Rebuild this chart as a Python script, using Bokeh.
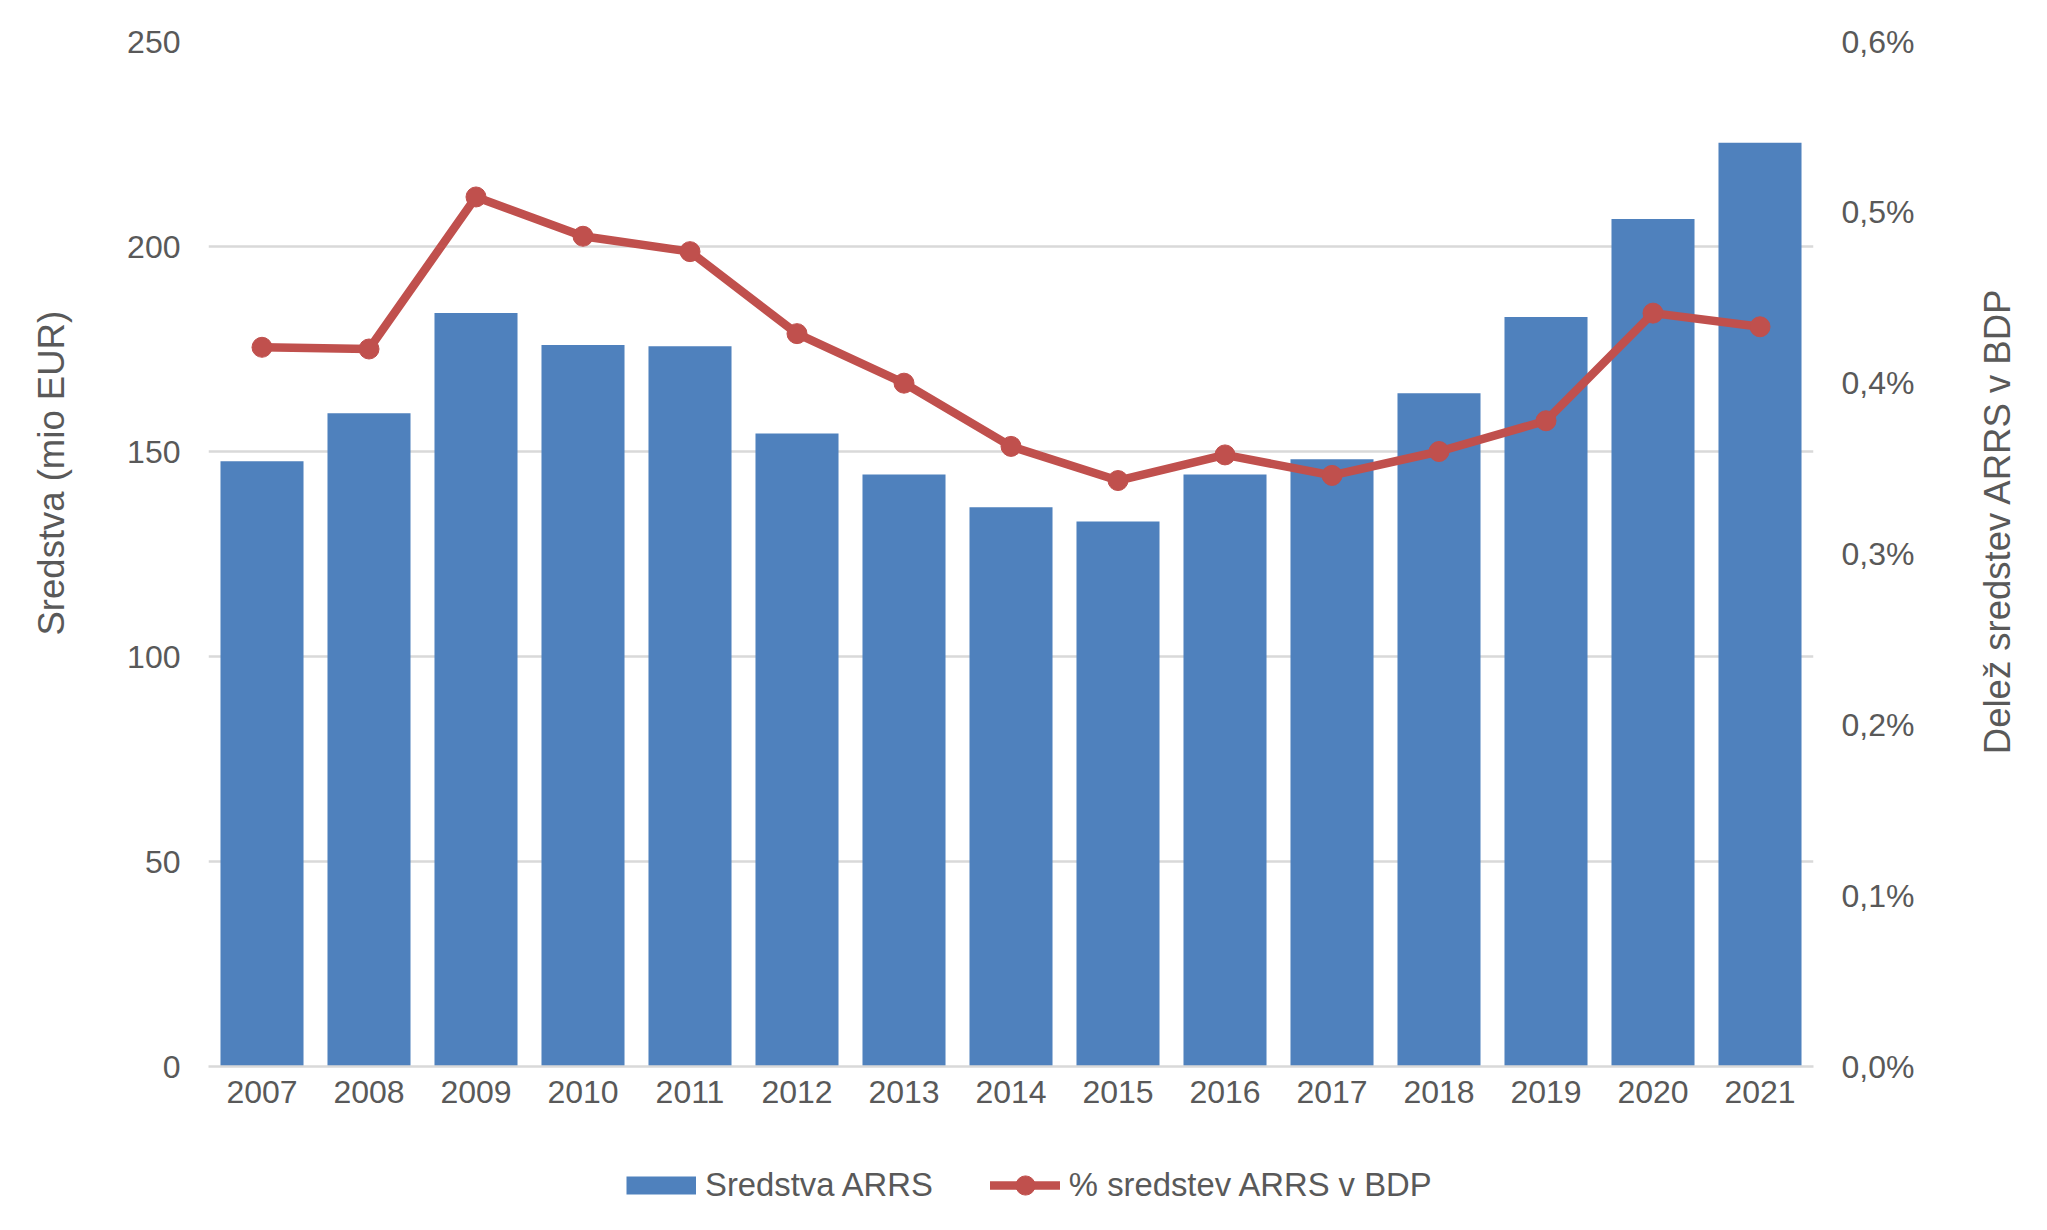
from bokeh.plotting import figure
from bokeh.layouts import row, column
from bokeh.models import (ColumnDataSource, FactorRange, Range1d, LinearAxis, FixedTicker,
                          CustomJSTickFormatter, Legend, LegendItem, Label)
from bokeh.embed import file_html
from bokeh.resources import INLINE
import math

# ---- data ----
years = ["2007", "2008", "2009", "2010", "2011", "2012", "2013", "2014",
         "2015", "2016", "2017", "2018", "2019", "2020", "2021"]
sredstva = [147.6, 159.3, 183.8, 176.0, 175.7, 154.4, 144.4, 136.4,
            132.9, 144.4, 148.1, 164.2, 182.8, 206.7, 225.3]
delez_pct = [0.421, 0.420, 0.509, 0.486, 0.477, 0.429, 0.400, 0.363,
             0.343, 0.358, 0.346, 0.360, 0.378, 0.441, 0.433]
left_ticks = [0, 50, 100, 150, 200, 250]
right_ticks = [0.0, 0.1, 0.2, 0.3, 0.4, 0.5, 0.6]
bar_name = "Sredstva ARRS"
line_name = "% sredstev ARRS v BDP"
left_title = "Sredstva (mio EUR)"
right_title = "Delež sredstev ARRS v BDP"

FONT = "Liberation Sans"
TXT = "#595959"
GRID = "#D9D9D9"
BLUE = "#4F81BD"
RED = "#C0504D"

SIDE_W = 100
MAIN_W = 2031 - 2 * SIDE_W
MAIN_H = 1161
LEG_H = 48


def bare(width, height, xr, yr):
    f = figure(width=width, height=height, x_range=xr, y_range=yr,
               output_backend="svg", toolbar_location=None,
               x_axis_location=None, y_axis_location=None,
               min_border_left=0, min_border_right=0, min_border_top=0, min_border_bottom=0)
    f.grid.visible = False
    f.outline_line_color = None
    f.background_fill_color = "white"
    f.border_fill_color = "white"
    return f


# ---- main chart ----
src = ColumnDataSource(dict(year=years, val=sredstva, pct=delez_pct))
p = figure(width=MAIN_W, height=MAIN_H, x_range=FactorRange(factors=years, range_padding=0),
           y_range=Range1d(0, 250), output_backend="svg", toolbar_location=None,
           min_border_left=108, min_border_right=118, min_border_top=41,
           min_border_bottom=MAIN_H - 1066)
p.extra_y_ranges = {"pct": Range1d(0, 0.6)}
p.outline_line_color = None
p.background_fill_color = "white"
p.border_fill_color = "white"

p.vbar(x="year", top="val", width=0.776, source=src, fill_color=BLUE, line_color=None)
p.line(x="year", y="pct", source=src, y_range_name="pct", line_color=RED,
       line_width=8.5, line_join="round", line_cap="round")
p.scatter(x="year", y="pct", source=src, y_range_name="pct", marker="circle",
          size=20, fill_color=RED, line_color=RED)

p.xgrid.grid_line_color = None
p.ygrid.grid_line_color = GRID
p.ygrid.grid_line_width = 2.5
p.ygrid.ticker = FixedTicker(ticks=left_ticks)

xa = p.xaxis[0]
xa.axis_line_color = GRID
xa.axis_line_width = 2.5
xa.major_tick_line_color = None
xa.minor_tick_line_color = None
xa.major_label_standoff = 8
xa.major_label_text_font = FONT
xa.major_label_text_font_size = "32px"
xa.major_label_text_color = TXT

ya = p.yaxis[0]
ya.ticker = FixedTicker(ticks=left_ticks)
ya.axis_line_color = None
ya.major_tick_line_color = None
ya.minor_tick_line_color = None
ya.major_label_standoff = 22
ya.major_label_text_font = FONT
ya.major_label_text_font_size = "32px"
ya.major_label_text_color = TXT

ra = LinearAxis(y_range_name="pct", ticker=FixedTicker(ticks=right_ticks),
                formatter=CustomJSTickFormatter(code="return tick.toFixed(1).replace('.', ',') + '%';"))
ra.axis_line_color = None
ra.major_tick_line_color = None
ra.minor_tick_line_color = None
ra.major_label_standoff = 22
ra.major_label_text_font = FONT
ra.major_label_text_font_size = "32px"
ra.major_label_text_color = TXT
p.add_layout(ra, "right")

# ---- axis titles (side strips) ----
lfig = bare(SIDE_W, MAIN_H, Range1d(0, SIDE_W), Range1d(0, MAIN_H))
lfig.add_layout(Label(x=51, y=MAIN_H - 489, text=left_title, angle=math.pi / 2,
                      text_align="center", text_baseline="middle",
                      text_font=FONT, text_font_size="36.5px", text_color=TXT))
rfig = bare(SIDE_W, MAIN_H, Range1d(0, SIDE_W), Range1d(0, MAIN_H))
rfig.add_layout(Label(x=66, y=MAIN_H - 543, text=right_title, angle=math.pi / 2,
                      text_align="center", text_baseline="middle",
                      text_font=FONT, text_font_size="36.5px", text_color=TXT))

# ---- legend strip ----
lg_fig = bare(2031, LEG_H, Range1d(0, 1), Range1d(0, 1))
nan_src = ColumnDataSource(dict(x=[0.5], y=[float("nan")]))
sw_bar = lg_fig.line(x="x", y="y", source=nan_src, line_color=BLUE, line_width=18, line_cap="butt")
sw_line = lg_fig.line(x="x", y="y", source=nan_src, line_color=RED, line_width=8.5, line_cap="round")
sw_pt = lg_fig.scatter(x="x", y="y", source=nan_src, marker="circle", size=20,
                       fill_color=RED, line_color=RED)
lg = Legend(items=[LegendItem(label=bar_name, renderers=[sw_bar]),
                   LegendItem(label=line_name, renderers=[sw_line, sw_pt])],
            location="left", orientation="horizontal",
            glyph_width=70, glyph_height=48, label_standoff=9,
            padding=0, margin=626, spacing=57,
            border_line_color=None, background_fill_alpha=0,
            label_text_font=FONT, label_text_font_size="32.8px",
            label_text_color=TXT)
lg_fig.add_layout(lg)

layout = column(row(lfig, p, rfig), lg_fig)
open("out.html", "w").write(file_html(layout, INLINE))
